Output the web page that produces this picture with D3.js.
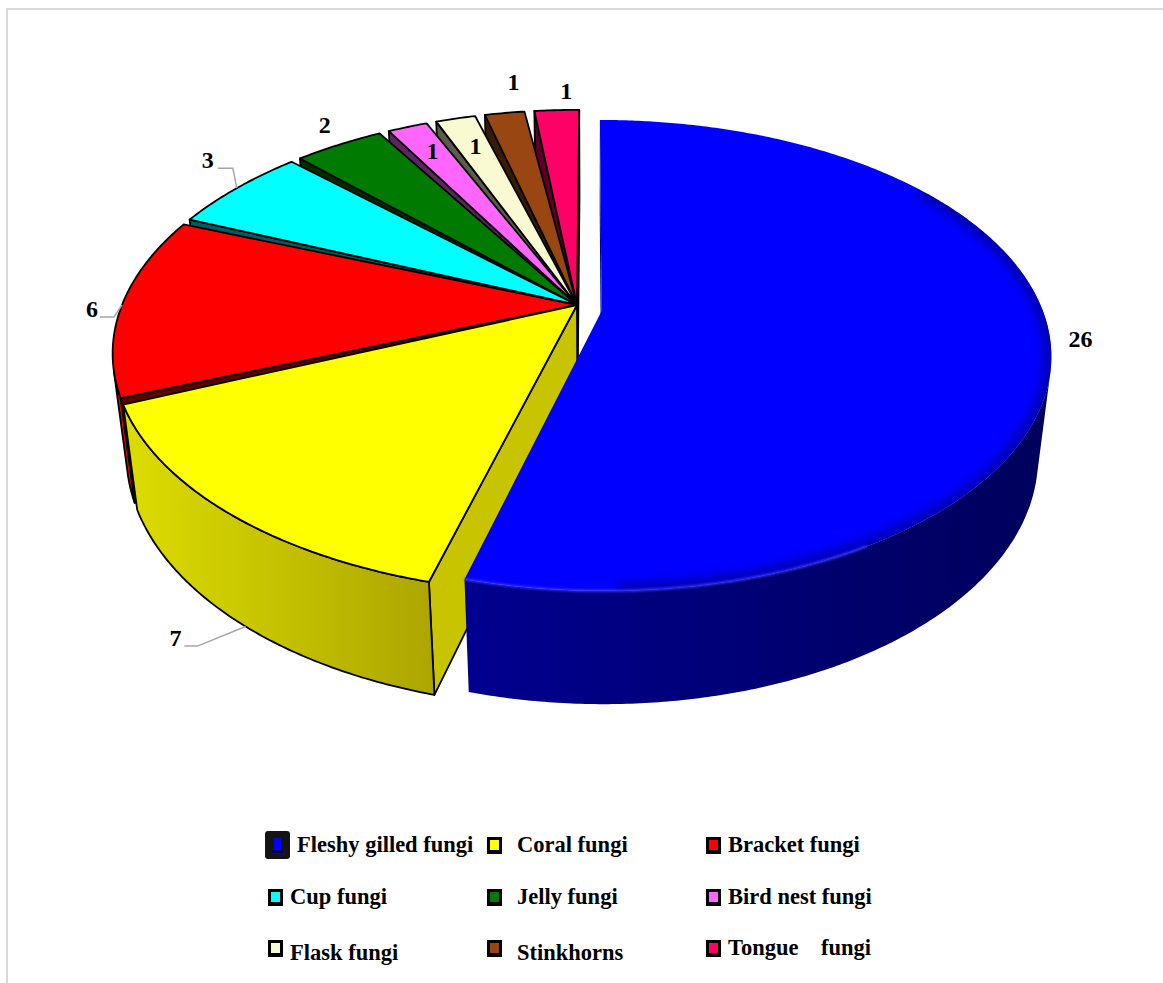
<!DOCTYPE html>
<html><head><meta charset="utf-8">
<script src="https://cdn.jsdelivr.net/npm/d3@7"></script>
<style>
body{margin:0;background:#fff}
svg{display:block}
text{font-family:"Liberation Serif","Times New Roman",serif;font-weight:bold;fill:#000}
</style>
</head><body>
<svg id="chart" width="1163" height="983"></svg>
<script>
// ---------------- data ----------------
const categories = ["Fleshy gilled fungi","Coral fungi","Bracket fungi","Cup fungi","Jelly fungi","Bird nest fungi","Flask fungi","Stinkhorns","Tongue fungi"];
const values = [26, 7, 6, 3, 2, 1, 1, 1, 1];
const colors = ["#0000ff","#ffff00","#ff0000","#00ffff","#007a00","#ff66ff","#fafad2","#9a4612","#ff0066"];
const legendLabels = ["Fleshy gilled fungi","Coral fungi","Bracket fungi","Cup fungi","Jelly fungi","Bird nest fungi","Flask fungi","Stinkhorns","Tongue    fungi"];

// ---------------- layout ----------------
const svg = d3.select("#chart");
svg.append("rect").attr("x",7).attr("y",9).attr("width",1170).attr("height",990)
  .attr("fill","none").attr("stroke","#d9d9d9").attr("stroke-width",2);

const defs = svg.append("defs");

// perspective projection of a pie lying flat
const cam = {cx:577, cy:305, sx:455, sy:466, k:0.224, alpha:30*Math.PI/180, camX:0.03};
const ca = Math.cos(cam.alpha), sa = Math.sin(cam.alpha);
const thick = 0.255;
const camPos = [cam.camX, sa/cam.k, -ca/cam.k];
const xAxisScreen = cam.cx + cam.sx*cam.camX;
function P(X, Z, Y){
  const zc = 1 + cam.k*(Z*ca - Y*sa);
  return [xAxisScreen + cam.sx*(X - cam.camX)/zc, cam.cy - cam.sy*(Y*ca + Z*sa)/zc];
}
function dist(p){ return Math.hypot(p[0]-camPos[0], p[1]-camPos[1], p[2]-camPos[2]); }
function visible(n, p){ return n[0]*(camPos[0]-p[0]) + n[1]*(camPos[1]-p[1]) + n[2]*(camPos[2]-p[2]) > 0; }

const pie = d3.pie().sort(null).value(d=>d).startAngle(0).endAngle(2*Math.PI);
const arcs = pie(values);
const pad = 0.75*Math.PI/180;
const line = d3.line().curve(d3.curveLinearClosed);
const deg = Math.PI/180;

const slices = arcs.map((a,i)=>{
  const isBlue = i===0;
  const r = isBlue ? 0.965 : 1;
  const off = isBlue ? [0.054,-0.026] : [0,0];
  let t0 = a.startAngle, t1 = a.endAngle;
  if(!isBlue){
    if(i>1) t0 += pad;
    if(i<arcs.length-1) t1 -= pad;
  }
  return {i, isBlue, r, off, t0, t1, mid:(a.startAngle+a.endAngle)/2, color:colors[i]};
});

function pt(s, t, Y, rr){ const r=(rr||s.r); return [s.off[0]+r*Math.sin(t), Y, s.off[1]+r*Math.cos(t)]; }
function proj(p){ return P(p[0], p[2], p[1]); }
function arcPts(s, a0, a1, Y){
  const n = Math.max(2, Math.ceil(Math.abs(a1-a0)/(0.5*deg)));
  return d3.range(n+1).map(j=>pt(s, a0+(a1-a0)*j/n, Y));
}

function facesOf(s){
  const faces = [];
  const c0=[s.off[0],0,s.off[1]], c1=[s.off[0],-thick,s.off[1]];
  [[s.t0,-1],[s.t1,1]].forEach(([t,sg])=>{
    const n = [sg*Math.cos(t),0,-sg*Math.sin(t)];
    const pm = pt(s,t,-thick/2,s.r/2);
    if(visible(n,pm)){
      const pts=[c0,pt(s,t,0),pt(s,t,-thick),c1];
      faces.push({type:"wall", t, pts:pts.map(proj), d:dist(pm), s});
    }
  });
  const steps = d3.range(s.t0, s.t1, 0.5*deg).concat([s.t1]);
  let run=[]; const runs=[];
  steps.forEach(t=>{
    const n=[Math.sin(t),0,Math.cos(t)];
    if(visible(n, pt(s,t,-thick/2))) run.push(t);
    else if(run.length){runs.push(run);run=[];}
  });
  if(run.length) runs.push(run);
  runs.forEach(rn=>{
    if(rn.length<2) return;
    const a0=rn[0], a1=rn[rn.length-1];
    const top=arcPts(s,a0,a1,0), bot=arcPts(s,a0,a1,-thick).reverse();
    const pm = pt(s,(a0+a1)/2,-thick/2);
    faces.push({type:"side", pts:top.concat(bot).map(proj), d:dist(pm), s, a0, a1});
  });
  return faces;
}
function topOf(s){
  const c0=[s.off[0],0,s.off[1]];
  return {type:"top", pts:[c0].concat(arcPts(s,s.t0,s.t1,0)).map(proj), d:dist(pt(s,s.mid,0,s.r/2)), s};
}

function linGrad(id, x1, x2, stops){
  const g = defs.append("linearGradient").attr("id",id).attr("gradientUnits","userSpaceOnUse")
    .attr("x1",x1).attr("x2",x2).attr("y1",0).attr("y2",0);
  stops.forEach(([o,c])=>g.append("stop").attr("offset",o).attr("stop-color",c));
}
linGrad("sideYellow",130,432,[[0,"#dcdc00"],[1,"#aca600"]]);
linGrad("sideBlue",465,1050,[[0,"#000090"],[0.5,"#000074"],[1,"#00005c"]]);
function blurFilter(id, sd){
  defs.append("filter").attr("id",id).attr("x","-20%").attr("y","-20%").attr("width","140%").attr("height","140%")
    .append("feGaussianBlur").attr("stdDeviation",sd);
}
blurFilter("blur",5);
blurFilter("blurS",1.2);

function sideFill(f){
  if(f.s.i===1) return "url(#sideYellow)";
  if(f.s.i===0) return "url(#sideBlue)";
  return d3.color(f.s.color).darker(0.25).formatHex();
}
function wallFill(f){
  if(f.s.i===1) return "#c8c400";
  if(f.s.i===0) return "#0000a0";
  return d3.color(f.s.color).darker(2.8).formatHex();
}

const others = slices.filter(s=>!s.isBlue);
const blue = slices[0];
const gPie = svg.append("g");
const SW = 1.8;

const lower = others.flatMap(facesOf).sort((a,b)=>b.d-a.d);
gPie.selectAll("path.lower").data(lower).join("path").attr("class","lower")
  .attr("d",f=>line(f.pts))
  .attr("fill",f=>f.type==="side"?sideFill(f):wallFill(f))
  .attr("stroke","#000").attr("stroke-width",SW).attr("stroke-linejoin","round");
const tops = others.map(topOf).sort((a,b)=>b.d-a.d);
gPie.selectAll("path.top").data(tops).join("path").attr("class","top")
  .attr("d",f=>line(f.pts)).attr("fill",f=>f.s.color)
  .attr("stroke","#000").attr("stroke-width",SW).attr("stroke-linejoin","round");

// exploded slice
const bFaces = facesOf(blue).sort((a,b)=>b.d-a.d);
gPie.selectAll("path.bl").data(bFaces).join("path").attr("class","bl")
  .attr("d",f=>line(f.pts))
  .attr("fill",f=>f.type==="side"?sideFill(f):wallFill(f));
const bTop = topOf(blue);
defs.append("clipPath").attr("id","blueClip").append("path").attr("d",line(bTop.pts));
gPie.append("path").attr("d",line(bTop.pts)).attr("fill",blue.color);
const shadeRim = arcPts(blue, 55*deg, 178*deg, 0).map(proj);
const gClip = gPie.append("g").attr("clip-path","url(#blueClip)");
gClip.append("path").attr("d",d3.line()(shadeRim)).attr("fill","none")
  .attr("stroke","#0000a8").attr("stroke-width",16).attr("opacity",0.85)
  .attr("stroke-linecap","round").attr("filter","url(#blur)");
const hiRim = arcPts(blue, 150*deg, blue.t1, 0).map(proj);
gPie.append("path").attr("d",d3.line()(hiRim)).attr("fill","none")
  .attr("stroke","#3c3cff").attr("stroke-width",2.5).attr("opacity",0.8).attr("filter","url(#blurS)");

// ---------------- data labels ----------------
const labelOffsets = [[30,-2],[-48,128],[-30,4],[-29,-28],[-14,-20],[25,24],[20,27],[9,-31],[12,-19]];
const labelAnchor = slices.map(s=>proj(pt(s,s.mid,0)));
const gLab = svg.append("g");
const leaders = [
  {i:1, from: proj(pt(slices[1], slices[1].mid - 0.03, -thick)), elbowDx: 22, endDx: 9, dy: 8},
  {i:2, from: labelAnchor[2], elbowDx: 22, endDx: 8, dy: 8},
  {i:3, from: labelAnchor[3], elbowDx: 25, endDx: 10, dy: 8}
];
leaders.forEach(L=>{
  const lp = [labelAnchor[L.i][0]+labelOffsets[L.i][0], labelAnchor[L.i][1]+labelOffsets[L.i][1]];
  const y = lp[1]+L.dy;
  gLab.append("path").attr("d",d3.line()([L.from,[lp[0]+L.elbowDx,y],[lp[0]+L.endDx,y]]))
    .attr("fill","none").attr("stroke","#a6a6a6").attr("stroke-width",1.5);
});
gLab.selectAll("text").data(values).join("text")
  .attr("x",(d,i)=>labelAnchor[i][0]+labelOffsets[i][0])
  .attr("y",(d,i)=>labelAnchor[i][1]+labelOffsets[i][1])
  .attr("text-anchor","middle").attr("dominant-baseline","central")
  .attr("font-size",24).text(d=>d);

// ---------------- legend ----------------
const legendColX = [268, 487, 706];
const legendTextDx = [22, 30, 22];
const legendRowY = [845, 897, 948];
const gLeg = svg.append("g");
categories.forEach((c,i)=>{
  const col=i%3, row=Math.floor(i/3);
  const x=legendColX[col], y=legendRowY[row];
  const g = gLeg.append("g");
  if(i===0){
    g.append("rect").attr("x",x-3).attr("y",y-14).attr("width",25).attr("height",28).attr("rx",3)
      .attr("fill","#141414");
    g.append("rect").attr("x",x+6).attr("y",y-7).attr("width",7).attr("height",13).attr("fill","#0000ff");
    g.append("rect").attr("x",x+4).attr("y",y+5).attr("width",11).attr("height",3).attr("fill","#000060");
  } else {
    g.append("rect").attr("x",x).attr("y",y-8).attr("width",15).attr("height",17).attr("fill","#000");
    g.append("rect").attr("x",x+3).attr("y",y-5).attr("width",9).attr("height",10).attr("fill",colors[i]);
  }
  const tdx = i===0 ? 29 : legendTextDx[col];
  const ty = y + 7 + (row===2 && col<2 ? 5 : 0);
  g.append("text").attr("x",x+tdx).attr("y",ty).attr("font-size",22.5)
    .style("white-space","pre").text(legendLabels[i]);
});
</script>
</body></html>
